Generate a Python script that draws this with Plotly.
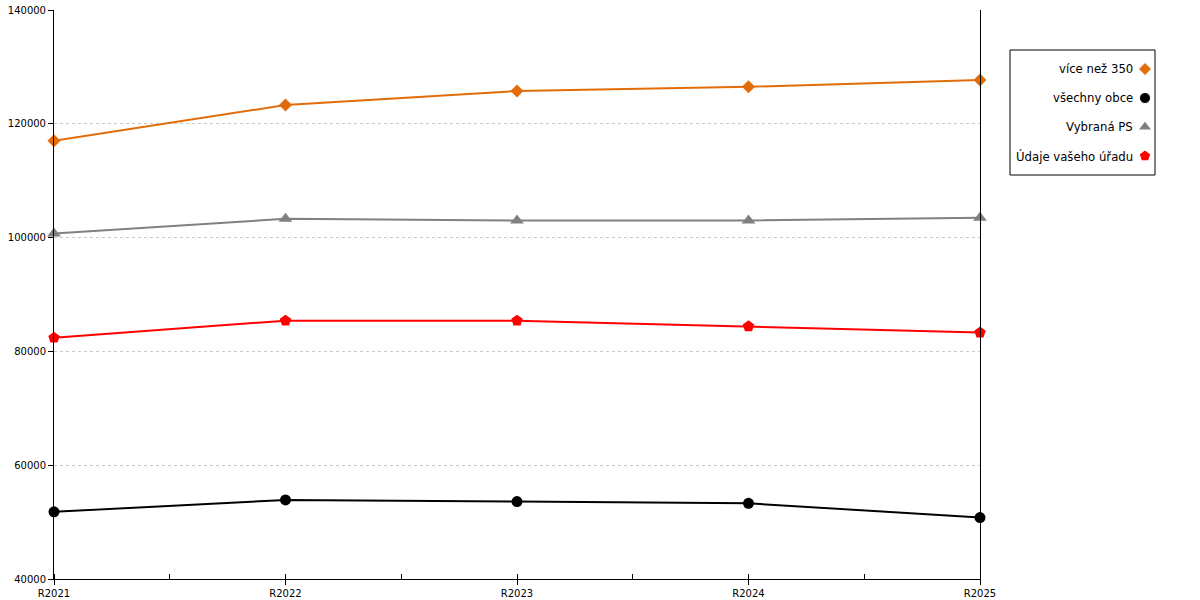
import plotly.graph_objects as go

# data
years = ['R2021', 'R2022', 'R2023', 'R2024', 'R2025']
vice_nez_350 = [117000, 123300, 125750, 126500, 127700]
vsechny_obce = [51800, 53900, 53600, 53300, 50800]
vybrana_ps = [100700, 103300, 103000, 103000, 103500]
udaje_uradu = [82400, 85400, 85400, 84400, 83300]

series_names = ['více než 350', 'všechny obce', 'Vybraná PS', 'Údaje vašeho úřadu']
series_values = [vice_nez_350, vsechny_obce, vybrana_ps, udaje_uradu]
series_colors = ['#E36C0A', '#000000', '#808080', '#FF0000']
series_symbols = ['diamond', 'circle', 'triangle-up', 'pentagon']
marker_sizes = [10, 11, 12, 12]

font_family = 'DejaVu Sans'
x_idx = list(range(len(years)))

# plot area in pixels
left, right, top, bottom = 54, 980, 10, 579
paper_r = 1160
plot_w = paper_r - left
plot_h = bottom - top

fig = go.Figure()

# draw order: bottom series first
for i in [1, 2, 3, 0]:
    fig.add_trace(go.Scatter(
        x=x_idx,
        y=series_values[i],
        mode='lines+markers',
        name=series_names[i],
        line={'color': series_colors[i], 'width': 2},
        marker={'symbol': series_symbols[i], 'size': marker_sizes[i], 'color': series_colors[i]},
        cliponaxis=False,
        showlegend=False,
    ))

# hand made legend (symbols sit right of the text)
box_x0 = (1010 - left) / plot_w
box_x1 = (1155 - left) / plot_w
box_y0 = (bottom - 175) / plot_h
box_y1 = (bottom - 50) / plot_h
row_y = [(bottom - py) / plot_h for py in (69, 98, 127, 156)]
text_x = (1135 - left) / plot_w

fig.add_trace(go.Scatter(
    x=[0] * len(series_names),
    y=row_y,
    mode='markers',
    marker={'symbol': series_symbols, 'size': marker_sizes, 'color': series_colors, 'opacity': 1},
    xaxis='x2', yaxis='y2',
    cliponaxis=False,
    showlegend=False,
    hoverinfo='skip',
))
for k, name in enumerate(series_names):
    fig.add_annotation(
        x=text_x, y=row_y[k], xref='paper', yref='paper',
        text=name, showarrow=False, xanchor='right', yanchor='middle',
        font={'size': 11.7, 'family': font_family, 'color': '#000000'},
    )

fig.add_shape(type='rect', xref='paper', yref='paper',
              x0=box_x0, x1=box_x1, y0=box_y0, y1=box_y1,
              line={'color': '#000000', 'width': 1}, fillcolor='rgba(0,0,0,0)')

fig.update_layout(
    width=1200, height=600,
    margin={'l': left, 'r': 1200 - paper_r, 't': top, 'b': 600 - bottom, 'autoexpand': False},
    paper_bgcolor='white', plot_bgcolor='white',
    font={'family': font_family, 'size': 10, 'color': '#000000'},
    xaxis={
        'domain': [0, (right - left) / plot_w],
        'range': [0, len(years) - 1],
        'tickvals': x_idx,
        'ticktext': years,
        'ticks': 'outside', 'ticklen': 5, 'tickcolor': '#000000',
        'minor': {'dtick': 0.5, 'tick0': 0, 'ticks': 'inside', 'ticklen': 5, 'tickcolor': '#000000', 'showgrid': False},
        'showline': True, 'linecolor': '#000000', 'linewidth': 1,
        'showgrid': False, 'zeroline': False, 'automargin': False,
        'tickfont': {'size': 10},
    },
    yaxis={
        'range': [40000, 140000],
        'dtick': 20000,
        'tickformat': 'd',
        'ticks': 'outside', 'ticklen': 5, 'tickcolor': '#000000',
        'showline': True, 'linecolor': '#000000', 'linewidth': 1, 'mirror': True,
        'showgrid': True, 'gridcolor': '#C8C8C8', 'griddash': 'dot', 'gridwidth': 1,
        'zeroline': False, 'automargin': False,
        'tickfont': {'size': 10},
    },
    xaxis2={
        'domain': [(1140 - left) / plot_w, (1150 - left) / plot_w],
        'range': [-0.5, 0.5], 'visible': False, 'anchor': 'y2', 'fixedrange': True,
    },
    yaxis2={
        'domain': [0, 1],
        'range': [0, 1], 'visible': False, 'anchor': 'x2', 'fixedrange': True,
    },
    showlegend=False,
)

# drop the default 8px page margin so the figure sits at the window corner
fig.write_html("out.html", config={'displayModeBar': False},
               post_script="document.body.style.margin='0';")
